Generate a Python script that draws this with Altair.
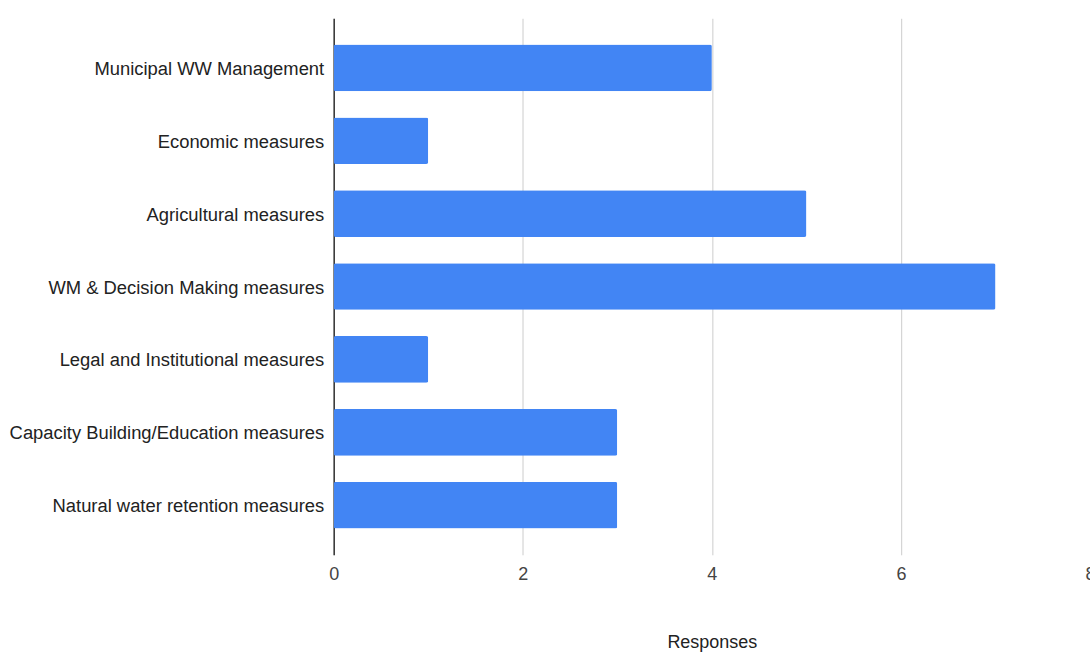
import altair as alt
import pandas as pd

categories = [
    "Municipal WW Management",
    "Economic measures",
    "Agricultural measures",
    "WM & Decision Making measures",
    "Legal and Institutional measures",
    "Capacity Building/Education measures",
    "Natural water retention measures",
]
responses = [4, 1, 5, 7, 1, 3, 3]

df = pd.DataFrame({"Measure": categories, "Responses": responses})

FONT = "Liberation Sans"

chart = alt.Chart(df).mark_bar(color="#4285F4", cornerRadius=2).encode(
    x=alt.X(
        "Responses:Q",
        scale=alt.Scale(domain=[0, 8], nice=False),
        axis=alt.Axis(
            values=[0, 2, 4, 6, 8],
            title="Responses",
            titleFont=FONT,
            titleFontSize=18,
            titleFontWeight="normal",
            titleColor="#222222",
            titlePadding=50,
            labelFont=FONT,
            labelFontSize=18,
            labelColor="#444444",
            labelPadding=11,
            labelFlush=False,
            ticks=False,
            domain=False,
            grid=True,
            gridColor="#cccccc",
            gridWidth=1,
        ),
    ),
    y=alt.Y(
        "Measure:N",
        sort=categories,
        scale=alt.Scale(paddingInner=0.36, paddingOuter=0.36),
        axis=alt.Axis(
            title=None,
            labelFont=FONT,
            labelFontSize=18.4,
            labelColor="#222222",
            labelPadding=10,
            labelLimit=400,
            labelOffset=1,
            ticks=False,
            domain=True,
            domainColor="#333333",
            domainWidth=1.5,
        ),
    ),
).properties(
    width=757,
    height=537,
    autosize=alt.AutoSizeParams(type="none"),
    padding={"left": 334, "top": 18, "right": 0, "bottom": 98},
).configure_view(stroke=None)

chart.save("out.html", embed_options={"renderer": "svg", "actions": False})
